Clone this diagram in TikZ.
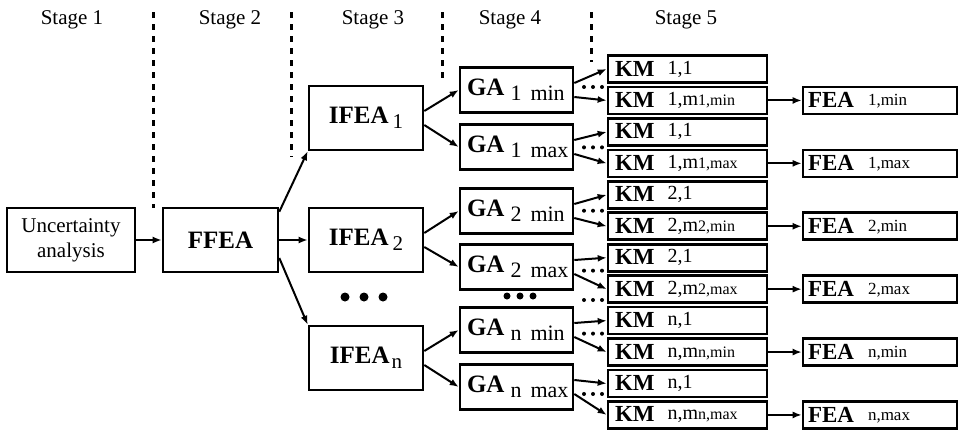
\documentclass[tikz,border=0pt]{standalone}
\usepackage{fontspec}
\setmainfont{Liberation Serif}
\usetikzlibrary{arrows.meta}
\newcommand{\fsz}[1]{\fontsize{#1}{#1}\selectfont}

\begin{document}
\begin{tikzpicture}[x=1pt,y=-1pt,
    blk/.style={draw,line width=2.6pt,inner sep=0pt},
    bigbox/.style={blk,minimum width=114pt,minimum height=64pt,font=\fsz{25}\bfseries},
    gabox/.style={blk,minimum width=113pt,minimum height=45pt,text width=99pt,align=left,font=\fsz{25}},
    kmbox/.style={blk,minimum width=159pt,minimum height=27pt,text width=145pt,align=left,font=\fsz{23}},
    feabox/.style={blk,minimum width=154pt,minimum height=27pt,text width=144pt,align=left,font=\fsz{23}},
    arr/.style={line width=2pt,-{Latex[length=9pt,width=7pt]}},
    sepline/.style={line width=3pt,dash pattern=on 6pt off 6pt}]
  \useasboundingbox (0,0) rectangle (959,431);
  % stage headings and separators
  \foreach \x/\lbl in {72/1,230/2,373/3,510/4,686/5} \node[font=\fsz{21}] (st\lbl) at (\x,20) {Stage \lbl};
  \foreach \x/\yb in {153/208,291/157,442/82,591/62} \draw[sepline] (\x,12) -- (\x,\yb);
  % stages 1 to 3
  \node[blk,minimum width=128pt,minimum height=64pt,align=center,font=\fontsize{21}{25}\selectfont] (unc) at (71,240) {Uncertainty\\analysis};
  \node[bigbox,minimum width=115pt] (ffea) at (220.5,240) {FFEA};
  \node[bigbox] (ifea1) at (366,118) {IFEA\raisebox{-5pt}{\fsz{21}\mdseries\hspace{4pt}1}};
  \node[bigbox] (ifea2) at (366,240) {IFEA\raisebox{-5pt}{\fsz{21}\mdseries\hspace{4pt}2}};
  \node[bigbox] (ifean) at (366,358) {IFEA\raisebox{-5pt}{\fsz{21}\mdseries\hspace{2pt}n}};
  \draw[arr] (unc) -- (ffea);
  \draw[arr] ([yshift=-5pt]ffea.north east) -- (ifea1.south west);
  \draw[arr] (ffea) -- (ifea2);
  \draw[arr] ([yshift=-18pt]ffea.east) -- (ifean.north west);
  % stage 4
  \foreach \j/\n/\y/\a/\b/\p/\s in {0/1min/90/1/min/ifea1/1, 1/1max/147/1/max/ifea1/-1,
      2/2min/211/2/min/ifea2/1, 3/2max/267/2/max/ifea2/-1,
      4/nmin/330/n/min/ifean/1, 5/nmax/387/n/max/ifean/-1}
  {
    \node[gabox] (ga\n) at (516.5,\y) {\textbf{GA}\raisebox{-5pt}{\fsz{22}\hspace{6pt}\a\hspace{9pt}\b}};
    \draw[arr] ([yshift=\s*7pt]\p.east) -- (ga\n.west);
    \foreach \d in {0,1,2} \fill ({584+9*\d},{0.43*\y+0.57*(69+31.45*(2*\j+0.5))}) circle (2pt);
  }
  % stage 5
  \foreach \i/\pa/\pb/\g/\s in {0/{1,1}//1min/1, 1/{1,m}/{1,min}/1min/-1, 2/{1,1}//1max/1, 3/{1,m}/{1,max}/1max/-1,
      4/{2,1}//2min/1, 5/{2,m}/{2,min}/2min/-1, 6/{2,1}//2max/1, 7/{2,m}/{2,max}/2max/-1,
      8/{n,1}//nmin/1, 9/{n,m}/{n,min}/nmin/-1, 10/{n,1}//nmax/1, 11/{n,m}/{n,max}/nmax/-1}
  {
    \node[kmbox] (km\i) at (687.5,{69+31.45*\i}) {\textbf{KM}\hspace{13pt}\raisebox{2pt}{\fsz{20}\pa\fsz{16}\pb}};
    \draw[arr] ([yshift=\s*7pt]ga\g.east) -- (km\i.west);
  }
  \foreach \i/\lbl in {1/{1,min},3/{1,max},5/{2,min},7/{2,max},9/{n,min},11/{n,max}}
  {
    \node[feabox] (fea\i) at (880,{69+31.45*\i}) {\textbf{FEA}\hspace{14pt}\raisebox{2pt}{\fsz{17}\lbl}};
    \draw[arr] (km\i) -- (fea\i);
  }
  % dots
  \foreach \x in {345,364,383} \fill (\x,297) circle (4.5pt);
  \foreach \x in {507,520,533} \fill (\x,296) circle (3.5pt);
  \foreach \x in {584,593,602} \fill (\x,300) circle (2pt);
\end{tikzpicture}
\end{document}
